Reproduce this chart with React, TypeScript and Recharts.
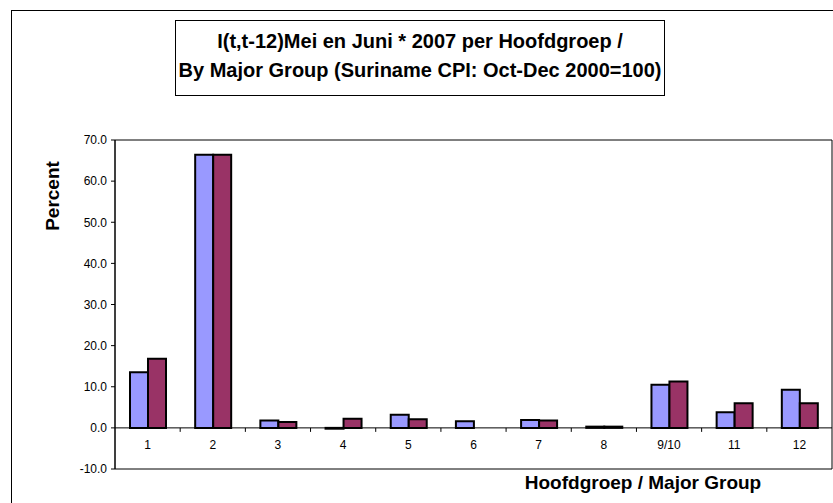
import React from 'react';
import { BarChart, Bar, XAxis, YAxis, ReferenceLine, ReferenceArea } from 'recharts';

const categories = ['1', '2', '3', '4', '5', '6', '7', '8', '9/10', '11', '12'];
const meiValues = [13.5, 66.4, 1.8, -0.2, 3.2, 1.6, 1.9, 0.3, 10.5, 3.8, 9.3];
const juniValues = [16.8, 66.4, 1.4, 2.2, 2.1, 0.0, 1.8, 0.3, 11.3, 6.0, 6.0];
const yTicks = [-10, 0, 10, 20, 30, 40, 50, 60, 70];

const data = categories.map((cat, i) => ({ cat, mei: meiValues[i], juni: juniValues[i] }));

const W = 833;
const H = 503;
const MARGIN = { top: 140, right: 1, left: 55, bottom: 4 };
const Y_AXIS_W = 60;
const X_AXIS_H = 30;
const PLOT_W = W - MARGIN.left - MARGIN.right - Y_AXIS_W;
const PLOT_H = H - MARGIN.top - MARGIN.bottom - X_AXIS_H;
const Y_MIN = -10;
const Y_MAX = 70;
const FONT = "'Liberation Sans', Arial, Helvetica, sans-serif";

const CatTick = (props: any) => {
  const { x, y, payload, index } = props;
  // y is the bottom of the plot area; the axis labels sit under the zero line
  const zeroOffset = (PLOT_H * (0 - Y_MIN)) / (Y_MAX - Y_MIN);
  const zeroY = y - zeroOffset;
  const band = PLOT_W / categories.length;
  return (
    <g>
      {index > 0 && (
        <line x1={x - band / 2} x2={x - band / 2} y1={zeroY} y2={zeroY + 4} stroke="#000" strokeWidth={1} />
      )}
      <text x={x} y={zeroY + 21} textAnchor="middle" fontSize={12} fontFamily={FONT} fill="#000">
        {payload.value}
      </text>
    </g>
  );
};

export default function App() {
  return (
    <div style={{ position: 'absolute', left: 0, top: 0, width: W, height: H, background: '#fff', overflow: 'hidden', fontFamily: FONT }}>
      <div style={{ position: 'absolute', left: 11, top: 10, width: W, height: H, borderLeft: '1px solid #000', borderTop: '1px solid #000' }} />
      <div
        style={{
          position: 'absolute',
          left: 175,
          top: 20,
          width: 490,
          height: 76,
          border: '1px solid #000',
          textAlign: 'center',
          fontWeight: 'bold',
          fontSize: 20,
          lineHeight: '29px',
          paddingTop: 6,
          boxSizing: 'border-box',
          color: '#000',
        }}
      >
        I(t,t-12)Mei en Juni * 2007 per Hoofdgroep /<br />
        By Major Group (Suriname CPI: Oct-Dec 2000=100)
      </div>
      <div style={{ position: 'absolute', left: 0, top: 0 }}>
        <BarChart width={W} height={H} data={data} margin={MARGIN} barGap={0} barSize={18}>
          <ReferenceArea y1={Y_MIN} y2={Y_MAX} fill="none" stroke="#000" strokeWidth={1} ifOverflow="visible" />
          <XAxis dataKey="cat" height={X_AXIS_H} axisLine={false} tickLine={false} tickSize={0} tickMargin={0} tick={<CatTick />} interval={0} />
          <YAxis
            width={Y_AXIS_W}
            domain={[Y_MIN, Y_MAX]}
            ticks={yTicks}
            tickFormatter={(v: number) => v.toFixed(1)}
            tickSize={4}
            tickMargin={4}
            tick={{ fontSize: 12, fill: '#000', fontFamily: FONT }}
            axisLine={{ stroke: '#000' }}
            tickLine={{ stroke: '#000' }}
            allowDataOverflow
          />
          <ReferenceLine y={0} stroke="#000" strokeWidth={1} />
          <Bar dataKey="mei" fill="#9999FF" stroke="#000" strokeWidth={2} isAnimationActive={false} />
          <Bar dataKey="juni" fill="#993366" stroke="#000" strokeWidth={2} isAnimationActive={false} />
        </BarChart>
      </div>
      <div
        style={{
          position: 'absolute',
          left: 53,
          top: 196,
          transform: 'translate(-50%, -50%) rotate(-90deg)',
          fontWeight: 'bold',
          fontSize: 19,
          color: '#000',
          whiteSpace: 'nowrap',
        }}
      >
        Percent
      </div>
      <div
        style={{
          position: 'absolute',
          left: 643,
          top: 483,
          transform: 'translate(-50%, -50%)',
          fontWeight: 'bold',
          fontSize: 19,
          color: '#000',
          whiteSpace: 'nowrap',
        }}
      >
        Hoofdgroep / Major Group
      </div>
    </div>
  );
}
